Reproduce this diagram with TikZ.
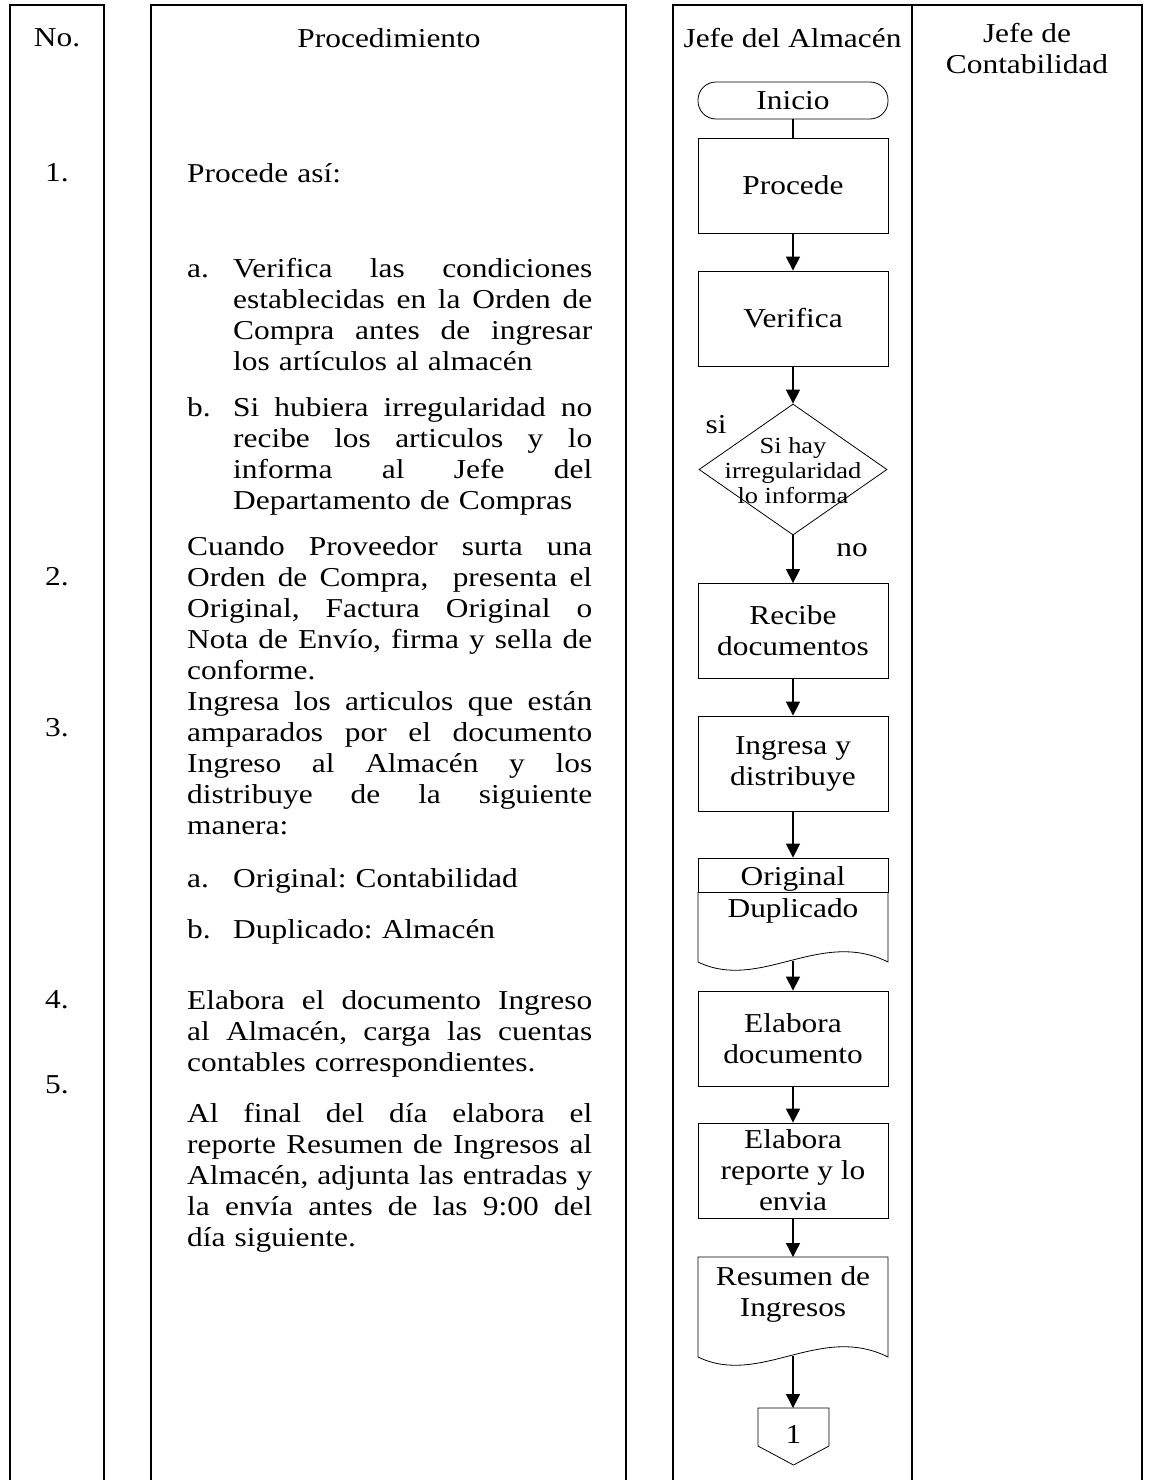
\documentclass[tikz,border=0pt]{standalone}
\usepackage{fontspec}
\setmainfont{Liberation Serif}[FakeStretch=1.15]
\usetikzlibrary{arrows.meta,shapes.geometric}
\frenchspacing
% one justified line of a given width (interword spaces stretch)
\newcommand\jst[2]{\makebox[#1][s]{\spaceskip=0pt\xspaceskip=0pt #2}}
\newcommand\itemlabel[1]{\makebox[46pt][l]{#1}}
\newcommand\itemskip{\hspace*{46pt}}
\begin{document}
\begin{tikzpicture}[x=1pt,y=-1pt,
  txt/.style={font=\fontsize{27.3}{31}\selectfont, inner sep=0pt},
  para/.style={txt, anchor=north west, align=left, text width=405pt},
  frame/.style={line width=1.4pt},
  outline/.style={line width=0.8pt},
  stepbox/.style={txt, draw, outline, minimum width=190pt, minimum height=95pt, align=center},
  flow/.style={line width=1.3pt, -{Triangle[length=14pt,width=14pt]}},
  plain/.style={line width=1.3pt}
]
\useasboundingbox (0,0) rectangle (1150,1480);

% table columns (open at the bottom)
\draw[frame] (10,1480) -- (10,5) -- (104,5) -- (104,1480);
\draw[frame] (151,1480) -- (151,5) -- (626,5) -- (626,1480);
\draw[frame] (673,1480) -- (673,5) -- (1142,5) -- (1142,1480);
\draw[frame] (912,5) -- (912,1480);

% headers
\node[txt] (hno) at (57,38) {No.};
\node[txt] (hproc) at (389,38) {Procedimiento};
\node[txt] (halm) at (792.5,38) {Jefe del Almacén};
\node[txt, align=center] (hcon) at (1027,49) {Jefe de\\Contabilidad};

% step numbers
\node[txt] (n1) at (57,173) {1.};
\node[txt] (n2) at (57,577) {2.};
\node[txt] (n3) at (57,728) {3.};
\node[txt] (n4) at (57,1000) {4.};
\node[txt] (n5) at (57,1085) {5.};

% procedure text
\node[para] (p1) at (187,160.3) {\strut Procede así:};
\node[para] (p1a) at (187,255.3) {\strut\itemlabel{a.}\jst{359pt}{Verifica las condiciones}\\
  \itemskip\jst{359pt}{establecidas en la Orden de}\\
  \itemskip\jst{359pt}{Compra antes de ingresar}\\
  \itemskip los artículos al almacén};
\node[para] (p1b) at (187,394.3) {\strut\itemlabel{b.}\jst{359pt}{Si hubiera irregularidad no}\\
  \itemskip\jst{359pt}{recibe los articulos y lo}\\
  \itemskip\jst{359pt}{informa al Jefe del}\\
  \itemskip Departamento de Compras};
\node[para] (p2) at (187,533.3) {\strut\jst{405pt}{Cuando Proveedor surta una}\\
  \jst{405pt}{Orden de Compra,\ \ presenta el}\\
  \jst{405pt}{Original, Factura Original o}\\
  \jst{405pt}{Nota de Envío, firma y sella de}\\
  conforme.};
\node[para] (p3) at (187,688.3) {\strut\jst{405pt}{Ingresa los articulos que están}\\
  \jst{405pt}{amparados por el documento}\\
  \jst{405pt}{Ingreso al Almacén y los}\\
  \jst{405pt}{distribuye de la siguiente}\\
  manera:};
\node[para] (p3a) at (187,865.3) {\strut\itemlabel{a.}Original: Contabilidad};
\node[para] (p3b) at (187,916.3) {\strut\itemlabel{b.}Duplicado: Almacén};
\node[para] (p4) at (187,987.3) {\strut\jst{405pt}{Elabora el documento Ingreso}\\
  \jst{405pt}{al Almacén, carga las cuentas}\\
  contables correspondientes.};
\node[para] (p5) at (187,1100.3) {\strut\jst{405pt}{Al final del día elabora el}\\
  \jst{405pt}{reporte Resumen de Ingresos al}\\
  \jst{405pt}{Almacén, adjunta las entradas y}\\
  \jst{405pt}{la envía antes de las 9:00 del}\\
  día siguiente.};

% flowchart: Jefe del Almacén
\node[txt, draw, outline, rounded corners=18pt, minimum width=190pt, minimum height=37pt] (ini) at (793,100.5) {Inicio};
\node[stepbox] (proc) at (793,185.5) {Procede};
\node[stepbox] (ver) at (793,318.5) {Verifica};
\node[draw, outline, diamond, minimum width=188pt, minimum height=131pt, inner sep=0pt] (dec) at (793,469.5) {};
\node[font=\fontsize{23}{25}\selectfont, align=center, inner sep=0pt] (dect) at (793,471) {Si hay\\irregularidad\\lo informa};
\node[txt] (si) at (716,425) {si};
\node[txt] (no) at (852,550) {no};
\node[stepbox] (rec) at (793,631) {Recibe\\documentos};
\node[stepbox] (ing) at (793,763.5) {Ingresa y\\distribuye};

% multiple document: Original / Duplicado
\node[txt, draw, outline, minimum width=190pt, minimum height=34pt, text height=27pt, text depth=6pt] (orig) at (793,875) {Original};
\draw[outline] (698,892) -- (698,962) .. controls (760,992) and (820,928) .. (888,962) -- (888,892);
\node[txt] (dup) at (793,911) {Duplicado};
\coordinate (dupb) at (793,960.5);

\node[stepbox] (elab) at (793,1038.5) {Elabora\\documento};
\node[stepbox] (rep) at (793,1170.5) {Elabora\\reporte y lo\\envia};

% document: Resumen de Ingresos
\draw[outline] (888,1257) -- (698,1257) -- (698,1357) .. controls (760,1387) and (820,1323) .. (888,1357) -- cycle;
\coordinate (restop) at (793,1257);
\coordinate (resb) at (793,1355.5);
\node[txt, align=center] (res) at (793,1294) {Resumen de\\Ingresos};

% off-page connector
\draw[outline] (758,1408) -- (829,1408) -- (829,1446) -- (793.5,1465) -- (758,1446) -- cycle;
\coordinate (cntop) at (793,1408);
\node[txt] (cn) at (793.5,1434) {1};

% connectors
\draw[plain] (ini.south) -- (proc.north);
\draw[flow] (proc.south) -- (ver.north);
\draw[flow] (ver.south) -- (dec.north);
\draw[flow] (dec.south) -- (rec.north);
\draw[flow] (rec.south) -- (ing.north);
\draw[flow] (ing.south) -- (orig.north);
\draw[flow] (dupb) -- (elab.north);
\draw[flow] (elab.south) -- (rep.north);
\draw[flow] (rep.south) -- (restop);
\draw[flow] (resb) -- (cntop);
\end{tikzpicture}
\end{document}
